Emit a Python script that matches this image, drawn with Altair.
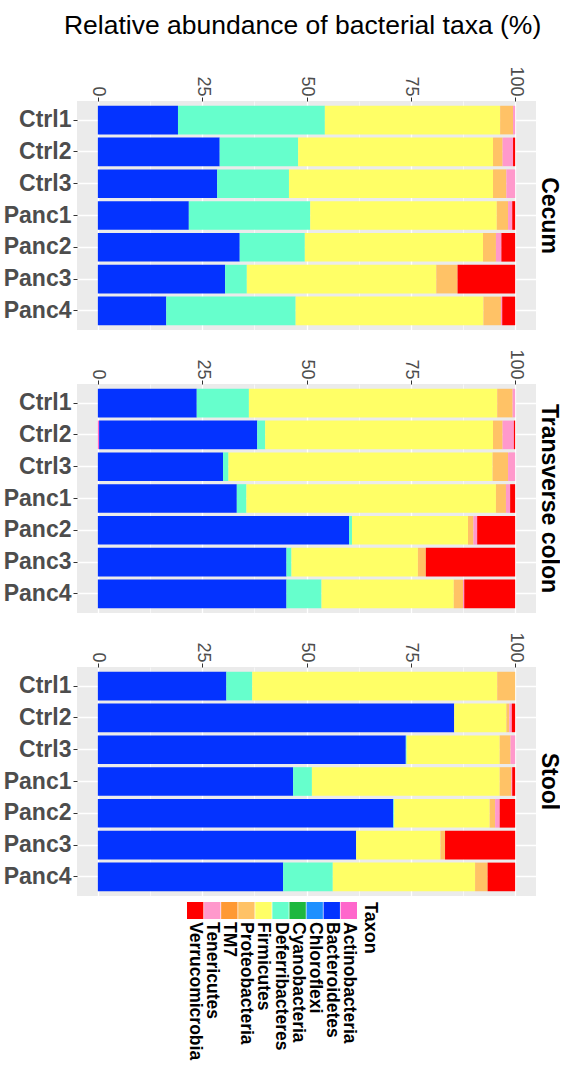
import altair as alt
import pandas as pd

FONT = "Liberation Sans"

samples = ["Ctrl1", "Ctrl2", "Ctrl3", "Panc1", "Panc2", "Panc3", "Panc4"]
taxa = ["Actinobacteria", "Bacteroidetes", "Chloroflexi", "Cyanobacteria",
        "Deferribacteres", "Firmicutes", "Proteobacteria", "TM7",
        "Tenericutes", "Verrucomicrobia"]
colors = ["#FF66CC", "#0433FF", "#1E90FF", "#1DB83F", "#66FFCC",
          "#FFFF66", "#FFC266", "#FF9933", "#FF99CC", "#FF0000"]
sites = ["Cecum", "Transverse colon", "Stool"]
x_ticks = [0, 12.5, 25, 37.5, 50, 62.5, 75, 87.5, 100]

zeros = [0, 0, 0, 0, 0, 0, 0]

cecum = {
    "Actinobacteria": zeros,
    "Bacteroidetes": [19.2, 29.2, 28.6, 21.8, 34.0, 30.5, 16.4],
    "Chloroflexi": zeros,
    "Cyanobacteria": zeros,
    "Deferribacteres": [35.2, 18.8, 17.2, 29.1, 15.6, 5.2, 31.0],
    "Firmicutes": [42.0, 46.7, 48.9, 44.7, 42.7, 45.4, 45.0],
    "Proteobacteria": [3.1, 2.3, 3.2, 2.7, 3.1, 5.1, 4.2],
    "TM7": zeros,
    "Tenericutes": [0.5, 2.5, 2.1, 1.0, 1.3, 0.0, 0.3],
    "Verrucomicrobia": [0.0, 0.5, 0.0, 0.7, 3.3, 13.8, 3.1],
}

transverse = {
    "Actinobacteria": [0.0, 0.3, 0.0, 0.0, 0.0, 0.0, 0.0],
    "Bacteroidetes": [23.7, 37.9, 30.0, 33.3, 60.2, 45.2, 45.2],
    "Chloroflexi": zeros,
    "Cyanobacteria": zeros,
    "Deferribacteres": [12.5, 1.9, 1.3, 2.3, 0.7, 1.2, 8.4],
    "Firmicutes": [59.5, 54.6, 63.3, 59.8, 27.8, 30.3, 31.7],
    "Proteobacteria": [3.7, 2.3, 3.7, 2.4, 1.3, 1.9, 2.2],
    "TM7": zeros,
    "Tenericutes": [0.6, 2.7, 1.7, 1.0, 0.9, 0.0, 0.3],
    "Verrucomicrobia": [0.0, 0.3, 0.0, 1.2, 9.1, 21.4, 12.2],
}

stool = {
    "Actinobacteria": zeros,
    "Bacteroidetes": [30.8, 85.4, 73.8, 46.8, 70.8, 61.9, 44.4],
    "Chloroflexi": zeros,
    "Cyanobacteria": zeros,
    "Deferribacteres": [6.2, 0.0, 0.2, 4.5, 0.2, 0.0, 11.9],
    "Firmicutes": [58.7, 12.5, 22.3, 45.0, 22.9, 20.2, 34.1],
    "Proteobacteria": [4.3, 0.7, 2.6, 2.8, 1.3, 1.1, 3.0],
    "TM7": zeros,
    "Tenericutes": [0.0, 0.6, 1.1, 0.2, 1.1, 0.0, 0.0],
    "Verrucomicrobia": [0.0, 0.8, 0.0, 0.7, 3.7, 16.8, 6.6],
}

site_data = [cecum, transverse, stool]

color_scale = alt.Scale(domain=taxa, range=colors)


def panel(site, data):
    rows = []
    for ti, t in enumerate(taxa):
        for si, s in enumerate(samples):
            rows.append({"sample": s, "taxon": t, "order": ti, "value": data[t][si]})
    df = pd.DataFrame(rows)
    return alt.Chart(df).mark_bar().encode(
        x=alt.X("value:Q", stack="zero",
                scale=alt.Scale(domain=[-5, 105], nice=False, zero=False),
                axis=alt.Axis(orient="top", title=None, values=x_ticks,
                              labelExpr="datum.value % 25 === 0 ? datum.label : ''",
                              labelAngle=90, labelAlign="right", labelBaseline="middle",
                              labelFont=FONT, labelFontSize=18, labelColor="#4D4D4D",
                              labelPadding=1, tickSize=4, tickColor="#333333",
                              tickOpacity={"condition": {"test": "datum.value % 25 !== 0", "value": 0}, "value": 1},
                              domain=False, grid=True, gridColor="white",
                              gridWidth={"condition": {"test": "datum.value % 25 !== 0", "value": 0.6}, "value": 1.3})),
        y=alt.Y("sample:N", sort=samples,
                scale=alt.Scale(paddingInner=0.1, paddingOuter=0.15),
                axis=alt.Axis(title=None, labelFont=FONT, labelFontSize=23,
                              labelFontWeight="bold", labelColor="#4D4D4D",
                              labelPadding=2, tickSize=4, tickColor="#333333",
                              bandPosition=0.5, domain=False, grid=True,
                              gridColor="white", gridWidth=1.3)),
        color=alt.Color("taxon:N", scale=color_scale, legend=None),
        order=alt.Order("order:Q", sort="ascending"),
    ).properties(
        width=459, height=229,
        view=alt.ViewBackground(fill="#EBEBEB", stroke=None),
        title=alt.TitleParams(site, orient="right", angle=90, anchor="middle",
                              frame="group", font=FONT, fontSize=23,
                              fontWeight="bold", color="black", offset=1),
    )


panels = [panel(s, d) for s, d in zip(sites, site_data)]

legend_order = taxa[::-1]
leg_df = pd.DataFrame({"taxon": legend_order})
leg_x = alt.X("taxon:N", sort=legend_order, axis=None,
              scale=alt.Scale(paddingInner=0.04, paddingOuter=0, range=[110, 280]))
squares = alt.Chart(leg_df).mark_rect().encode(
    x=leg_x, y=alt.value(0), y2=alt.value(17),
    color=alt.Color("taxon:N", scale=color_scale, legend=None),
)
labels = alt.Chart(leg_df).mark_text(
    angle=90, align="left", baseline="middle", font=FONT,
    fontSize=17.5, fontWeight="bold", color="black",
).encode(x=leg_x, y=alt.value(20), text="taxon:N")
legend = alt.layer(squares, labels).properties(
    width=280, height=145,
    view=alt.ViewBackground(fill=None, stroke=None),
    title=alt.TitleParams("Taxon", orient="right", angle=90, anchor="start",
                          frame="group", font=FONT, fontSize=18,
                          fontWeight="bold", color="black", offset=3),
)

chart = alt.vconcat(alt.vconcat(*panels, spacing=18), legend, spacing=6).properties(
    title=alt.TitleParams("Relative abundance of bacterial taxa (%)",
                          font=FONT, fontSize=26.5, fontWeight="normal",
                          color="black", anchor="middle", dx=21, offset=26),
    padding={"left": 3, "top": 13, "right": 0, "bottom": 0},
    background="white",
).configure_view(stroke=None)

chart.save("out.html", embed_options={"renderer": "svg", "actions": False})
